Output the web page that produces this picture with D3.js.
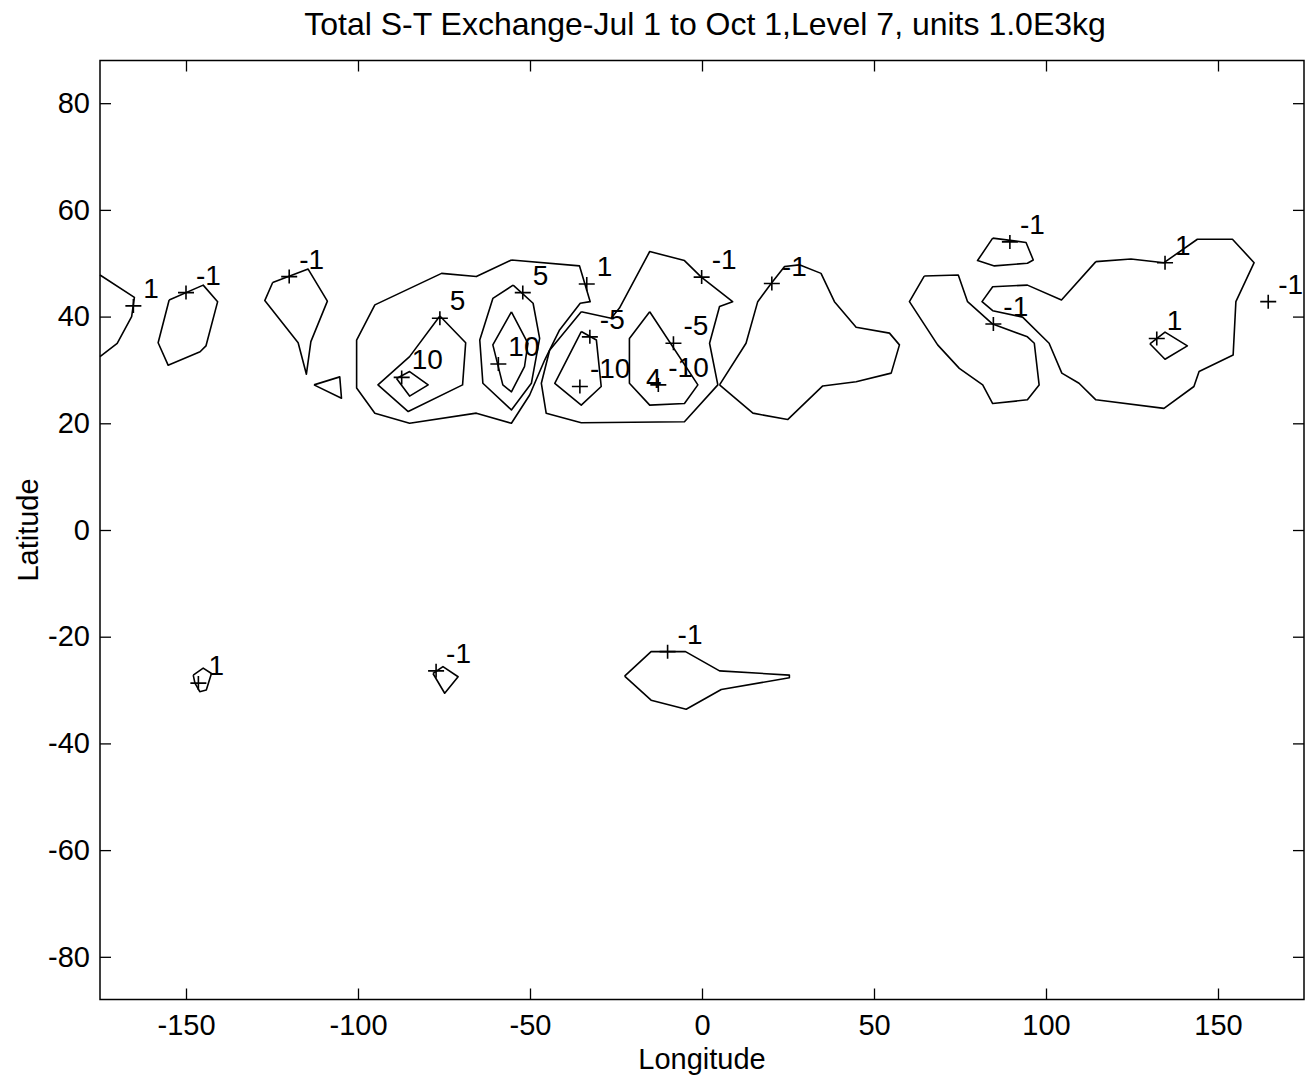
<!DOCTYPE html>
<html>
<head>
<meta charset="utf-8">
<script src="https://cdn.jsdelivr.net/npm/d3@7/dist/d3.min.js"></script>
<style>
  body { margin: 0; background: #fff; }
  text { font-family: "Liberation Sans", Arial, Helvetica, sans-serif; fill: #000; }
</style>
</head>
<body>
<div class="chart"></div>
<script>
// contour lines, [longitude, latitude] vertices
var contourA = [[-175, 47.8], [-165.0, 43.6], [-165.8, 40.0], [-170.0, 35.0], [-175, 32.5]];
var contourB = [[-154.9, 43.1], [-145.0, 45.9], [-140.8, 42.8], [-144.2, 34.5], [-145.9, 33.4], [-155.2, 30.9], [-158.1, 35.1]];
var contourC = [[-124.8, 46.4], [-114.5, 48.9], [-108.9, 42.9], [-113.7, 35.3], [-115.0, 29.2], [-117.4, 35.1], [-127.1, 43.0]];
var contourD = [[-112.8, 27.2], [-105.3, 28.7], [-104.8, 24.7]];
var contourE = [[-55.4, 50.6], [-35.6, 49.5], [-32.5, 42.8], [-35.4, 42.5], [-41.4, 37.5], [-45.7, 31.9], [-50.1, 25.3],
  [-55.4, 20.0], [-65.6, 21.9], [-85.0, 20.0], [-95.1, 21.9], [-100.4, 26.6], [-100.4, 35.6], [-95.1, 42.2],
  [-75.7, 48.1], [-65.6, 47.5]];
var contourF = [[-76.2, 40.1], [-68.7, 35.1], [-69.6, 27.2], [-85.4, 22.2], [-94.2, 27.2], [-85.0, 32.5]];
var contourG = [[-88.8, 28.4], [-85.0, 29.7], [-79.6, 27.2], [-85.0, 25.1]];
var contourH = [[-54.9, 45.9], [-49.1, 42.5], [-47.2, 35.9], [-49.6, 27.5], [-55.4, 22.5], [-63.7, 27.5], [-64.6, 35.6], [-60.8, 43.4]];
var contourI = [[-55.4, 40.9], [-50.6, 35.0], [-51.6, 30.6], [-55.4, 25.9], [-57.9, 27.2], [-60.8, 34.7]];
var contourJ = [[-35.1, 40.9], [-26.4, 39.7], [-24.0, 41.6], [-15.2, 52.2], [-5.1, 50.5], [-0.2, 47.4], [8.9, 42.8],
  [5.1, 41.9], [2.2, 35.0], [4.6, 27.2], [-5.1, 20.3], [-35.1, 20.1], [-45.3, 21.9], [-46.7, 27.5], [-44.3, 33.7]];
var contourK1 = [[-35.1, 37.2], [-30.7, 35.6], [-29.3, 26.9], [-35.1, 23.4], [-42.8, 27.5]];
var contourK2 = [[-15.2, 40.9], [-1.2, 27.2], [-5.1, 23.7], [-15.2, 23.4], [-21.1, 27.5], [-21.1, 35.9]];
var contourL = [[5.1, 27.2], [12.8, 35.0], [16.2, 42.8], [20.1, 46.2], [24.0, 49.4], [28.3, 49.7], [34.6, 48.1],
  [38.5, 42.8], [44.8, 38.0], [54.5, 36.9], [57.4, 34.7], [55.0, 29.4], [44.8, 27.8], [35.1, 27.0], [24.9, 20.7], [14.8, 21.9]];
var contourM = [[84.5, 54.7], [94.2, 53.9], [96.3, 50.6], [94.6, 50.0], [85.0, 49.5], [80.1, 50.5]];
var contourN = [[64.6, 47.6], [74.5, 47.8], [77.2, 42.8], [84.5, 38.6], [94.6, 36.2], [96.6, 35.0], [98.0, 27.2],
  [94.6, 24.4], [84.5, 23.7], [81.6, 27.2], [74.8, 30.3], [68.5, 34.7], [60.3, 42.8]];
var contourO = [[114.5, 50.3], [124.7, 50.8], [134.3, 50.1], [144.0, 54.5], [154.2, 54.5], [160.5, 50.1], [155.2, 42.8],
  [154.4, 32.8], [144.5, 29.7], [143.0, 26.9], [134.3, 22.8], [114.5, 24.4], [109.6, 27.5], [104.6, 29.4],
  [100.9, 35.0], [93.2, 39.9], [84.5, 41.1], [81.4, 42.8], [84.5, 45.6], [94.6, 45.9], [104.5, 43.1]];
var contourP = [[130.2, 34.9], [134.6, 37.1], [141.1, 34.5], [134.6, 32.0]];
var contourQ = [[-147.9, -27.2], [-145.0, -25.9], [-142.6, -26.9], [-144.1, -30.0], [-146.0, -30.3], [-147.4, -28.7]];
var contourR = [[-78.2, -26.9], [-75.3, -25.6], [-70.9, -27.5], [-74.8, -30.6]];
var contourS = [[-22.5, -27.4], [-14.8, -22.8], [-4.8, -22.8], [5.1, -26.4], [25.4, -27.2], [25.4, -27.7],
  [5.6, -29.9], [-4.6, -33.6], [-14.8, -31.9]];

var openContours = [contourA];
var closedContours = [contourB, contourC, contourD, contourE, contourF, contourG, contourH, contourI, contourJ,
  contourK1, contourK2, contourL, contourM, contourN, contourO, contourP, contourQ, contourR, contourS];

// clabel marks and their texts
var labelLon = [-165.3, -150.0, -120.0, -76.2, -87.3, -52.1, -59.2, -33.5, -32.6, -35.5, -0.1, -8.3, -12.7,
  20.3, 89.5, 84.7, 134.6, 132.2, 164.6, -146.4, -77.3, -10.0];
var labelLat = [42.0, 44.5, 47.5, 39.7, 28.6, 44.5, 31.1, 46.1, 36.2, 26.9, 47.4, 35.0, 27.2,
  46.2, 54.0, 38.6, 50.1, 35.9, 42.8, -28.7, -26.4, -22.8];
var labelText = ["1", "-1", "-1", "5", "10", "5", "10", "1", "-5", "-10", "-1", "-5", "-10",
  "-1", "-1", "-1", "1", "1", "-1", "1", "-1", "-1"];
// a stray label character without its own mark
var strayText = ["4"];
var strayLon = [-16.3];
var strayLat = [26.6];

var xTicks = [-150, -100, -50, 0, 50, 100, 150];
var yTicks = [-80, -60, -40, -20, 0, 20, 40, 60, 80];

var svgWidth = 1312;
var svgHeight = 1086;
var margin = { top: 60.5, right: 8, bottom: 86.5, left: 100 };
var width = svgWidth - margin.left - margin.right;
var height = svgHeight - margin.top - margin.bottom;

var svg = d3.select(".chart")
  .append("svg")
  .attr("width", svgWidth)
  .attr("height", svgHeight);

var chartGroup = svg.append("g")
  .attr("transform", `translate(${margin.left}, ${margin.top})`);

var xScale = d3.scaleLinear().domain([-175, 175]).range([0, width]);
var yScale = d3.scaleLinear().domain([-88, 88]).range([height, 0]);

var fontFamily = '"Liberation Sans", Arial, Helvetica, sans-serif';
// plain hyphen for negatives, as in the original
var tickFmt = d => String(d);

// axes, ticks pointing inward on all four sides
function styleAxis(g) {
  g.attr("font-family", fontFamily).attr("font-size", 29);
  g.select(".domain").remove();
  g.selectAll(".tick line").attr("stroke", "#000").attr("stroke-width", 1.3);
  g.selectAll(".tick text").attr("fill", "#000");
}

chartGroup.append("g")
  .attr("transform", `translate(0, ${height})`)
  .call(d3.axisBottom(xScale).tickValues(xTicks).tickSize(-11).tickSizeOuter(0).tickPadding(15).tickFormat(tickFmt))
  .call(styleAxis);

chartGroup.append("g")
  .call(d3.axisTop(xScale).tickValues(xTicks).tickSize(-11).tickSizeOuter(0).tickFormat(""))
  .call(styleAxis);

chartGroup.append("g")
  .call(d3.axisLeft(yScale).tickValues(yTicks).tickSize(-11).tickSizeOuter(0).tickPadding(10).tickFormat(tickFmt))
  .call(styleAxis);

chartGroup.append("g")
  .attr("transform", `translate(${width}, 0)`)
  .call(d3.axisRight(yScale).tickValues(yTicks).tickSize(-11).tickSizeOuter(0).tickFormat(""))
  .call(styleAxis);

chartGroup.append("rect")
  .attr("width", width)
  .attr("height", height)
  .attr("fill", "none")
  .attr("stroke", "#000")
  .attr("stroke-width", 1.5);

// contour lines
var line = d3.line()
  .x(d => xScale(d[0]))
  .y(d => yScale(d[1]));

chartGroup.selectAll(".contour-open")
  .data(openContours)
  .enter()
  .append("path")
  .attr("class", "contour-open")
  .attr("d", line)
  .attr("fill", "none")
  .attr("stroke", "#000")
  .attr("stroke-width", 1.6)
  .attr("stroke-linejoin", "round");

chartGroup.selectAll(".contour")
  .data(closedContours)
  .enter()
  .append("path")
  .attr("class", "contour")
  .attr("d", d => line(d.concat([d[0]])))
  .attr("fill", "none")
  .attr("stroke", "#000")
  .attr("stroke-width", 1.6)
  .attr("stroke-linejoin", "round");

// "+" marks and the contour values
var labelGroup = chartGroup.append("g");

labelGroup.selectAll(".mark")
  .data(labelText)
  .enter()
  .append("path")
  .attr("class", "mark")
  .attr("d", (d, i) => {
    var cx = xScale(labelLon[i]);
    var cy = yScale(labelLat[i]);
    return `M${cx - 8},${cy}H${cx + 8}M${cx},${cy - 7}V${cy + 7}`;
  })
  .attr("stroke", "#000")
  .attr("stroke-width", 1.6);

labelGroup.selectAll(".clabel")
  .data(labelText)
  .enter()
  .append("text")
  .attr("class", "clabel")
  .attr("x", (d, i) => xScale(labelLon[i]) + 10)
  .attr("y", (d, i) => yScale(labelLat[i]) - 8)
  .attr("font-size", 28)
  .text(d => d);

labelGroup.selectAll(".stray")
  .data(strayText)
  .enter()
  .append("text")
  .attr("class", "stray")
  .attr("x", (d, i) => xScale(strayLon[i]))
  .attr("y", (d, i) => yScale(strayLat[i]))
  .attr("font-size", 28)
  .text(d => d);

// titles
svg.append("text")
  .attr("x", 705)
  .attr("y", 35)
  .attr("text-anchor", "middle")
  .attr("font-size", 32)
  .text("Total S-T Exchange-Jul 1 to Oct 1,Level 7, units 1.0E3kg");

chartGroup.append("text")
  .attr("x", width / 2)
  .attr("y", height + 69)
  .attr("text-anchor", "middle")
  .attr("font-size", 29)
  .text("Longitude");

chartGroup.append("text")
  .attr("transform", `translate(${38 - margin.left}, ${height / 2}) rotate(-90)`)
  .attr("text-anchor", "middle")
  .attr("font-size", 29)
  .text("Latitude");
</script>
</body>
</html>
